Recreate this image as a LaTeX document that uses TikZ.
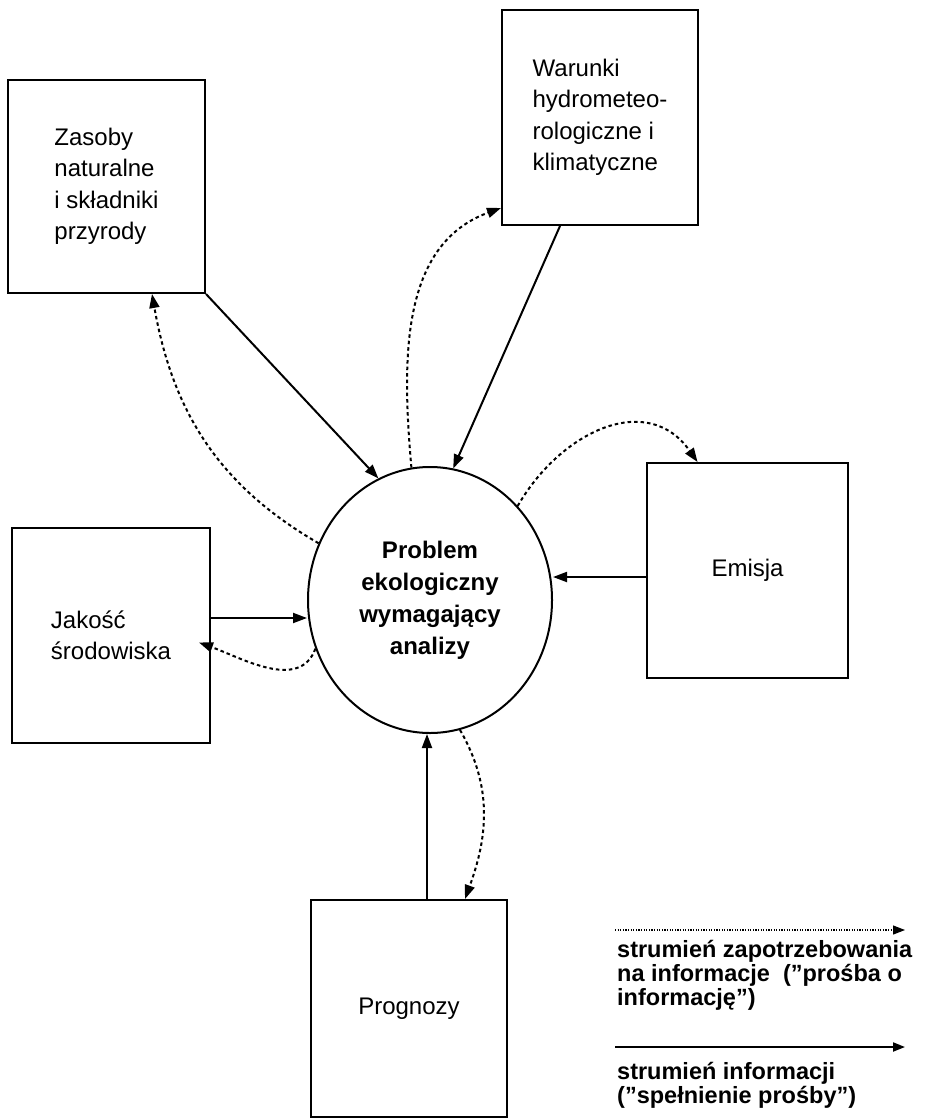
\documentclass[tikz,border=0pt]{standalone}
\usepackage{fontspec}
\setmainfont{Liberation Sans}
\usetikzlibrary{arrows.meta,shapes.geometric}

\begin{document}
\begin{tikzpicture}[x=1pt,y=-1pt,
  box/.style={draw,line width=2pt,inner sep=0pt,align=left,
    font=\fontsize{24}{31.5}\selectfont},
  problem/.style={draw,ellipse,line width=2pt,inner sep=0pt,
    minimum width=244pt,minimum height=266pt,align=center,
    font=\bfseries\fontsize{24}{32}\selectfont},
  answer/.style={line width=2pt,-{Triangle[length=14pt,width=10pt]}},
  request/.style={line width=2pt,dash pattern=on 3.5pt off 3pt,
    -{Triangle[length=14pt,width=10pt]}},
  legend/.style={inner sep=0pt,anchor=west,align=left,
    font=\bfseries\fontsize{23.5}{24}\selectfont}]
  \useasboundingbox (0,0) rectangle (924,1118);
  \node[box,minimum width=197pt,minimum height=213pt] (zas) at (106.5,186.5)
    {Zasoby\\naturalne\\i składniki\\przyrody};
  \node[box,minimum width=196pt,minimum height=215pt] (war) at (600,117.5)
    {Warunki\\hydrometeo-\\rologiczne i\\klimatyczne};
  \node[box,minimum width=198pt,minimum height=215pt] (jak) at (111,635.5)
    {Jakość\\środowiska};
  \node[box,minimum width=201pt,minimum height=215pt] (emi) at (747.5,570.5)
    {Emisja};
  \node[box,minimum width=196pt,minimum height=217pt] (prog) at (409,1008.5)
    {Prognozy};
  \node[problem] (prob) at (430,600)
    {Problem\\ekologiczny\\wymagający\\analizy};
  \draw[answer] (zas.south east) -- (prob.113);
  \draw[answer] ([xshift=-40pt]war.south) -- (prob.80);
  \draw[answer] ([yshift=17.5pt]jak.east) -- ([yshift=17.5pt]jak.east -| prob.west);
  \draw[answer] ([yshift=-6.5pt]emi.west) -- ([yshift=-6.5pt]emi.west -| prob.east);
  \draw[answer] ([xshift=18pt]prog.north) -- ([xshift=18pt]prog.north |- prob.south);
  \draw[request] (prob.153) to[out=150,in=-80] ([xshift=45.5pt]zas.south);
  \draw[request] (prob.98) to[out=95,in=200] ([yshift=18pt]war.south west);
  \draw[request] (prob.203) to[out=250,in=-20] ([xshift=-12pt,yshift=-7pt]jak.east);
  \draw[request] (prob.47) to[out=60,in=125,looseness=1.2] ([xshift=-50pt]emi.north);
  \draw[request] (prob.-77) to[out=-60,in=70] ([xshift=56pt]prog.north);
  \coordinate (reqa) at (615,930);
  \coordinate (reqb) at (905,930);
  \coordinate (ansa) at (615,1047);
  \coordinate (ansb) at (905,1047);
  \draw[line width=1.2pt,dash pattern=on 1.2pt off 1.4pt,
    -{Triangle[length=12pt,width=9pt]}] (reqa) -- (reqb);
  \draw[line width=2pt,-{Triangle[length=12pt,width=9pt]}] (ansa) -- (ansb);
  \node[legend] (req) at (617,975)
    {strumień zapotrzebowania\\na informacje~ ("prośba o\\informację")};
  \node[legend] (ans) at (617,1085)
    {strumień informacji\\("spełnienie prośby")};
\end{tikzpicture}
\end{document}
